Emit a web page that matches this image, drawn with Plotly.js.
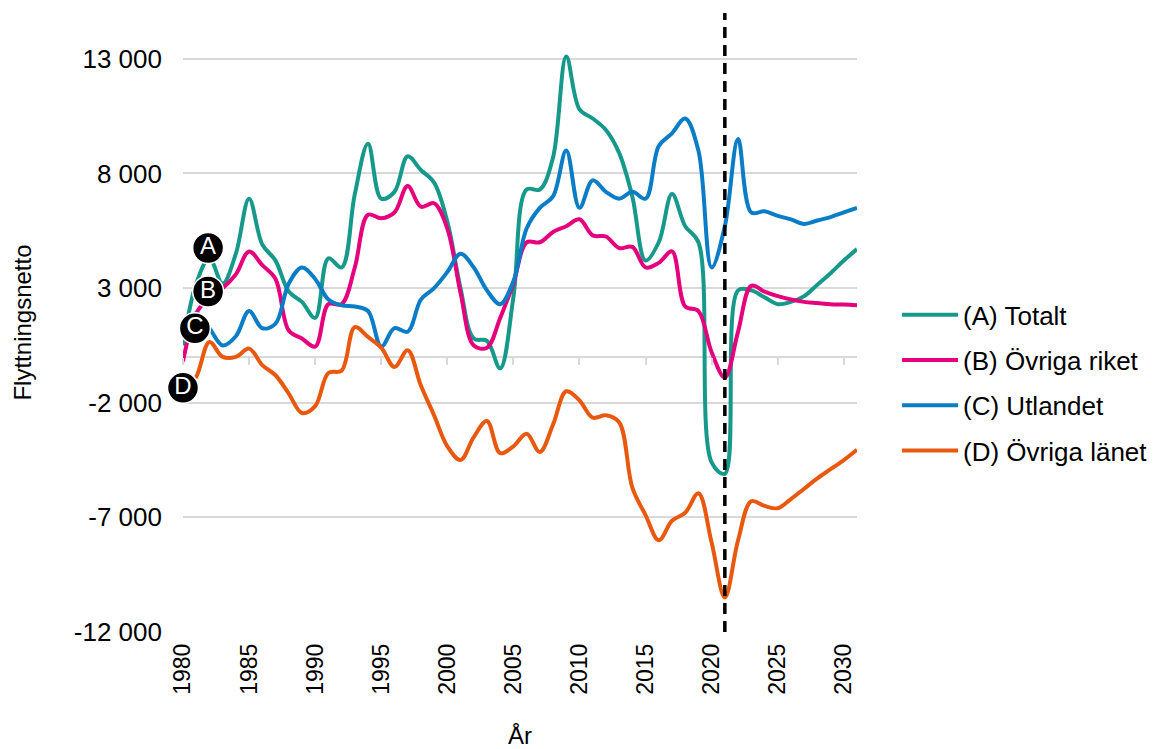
<!DOCTYPE html>
<html>
<head>
<meta charset="utf-8">
<script src="https://cdn.plot.ly/plotly-3.0.1.min.js"></script>
<style>
  html, body { margin: 0; padding: 0; background: #ffffff; }
  #chart { width: 1153px; height: 749px; }
</style>
</head>
<body>
<div id="chart"></div>
<script>
// ---- Data ----
const years = [1980,1981,1982,1983,1984,1985,1986,1987,1988,1989,
               1990,1991,1992,1993,1994,1995,1996,1997,1998,1999,
               2000,2001,2002,2003,2004,2005,2006,2007,2008,2009,
               2010,2011,2012,2013,2014,2015,2016,2017,2018,2019,
               2020,2021,2022,2023,2024,2025,2026,2027,2028,2029,
               2030,2031];

const totalt = [500,3200,4300,3200,4500,6900,4900,4200,2850,2400,
                1700,4300,3900,7100,9300,6900,7200,8750,8150,7600,
                5900,3000,800,700,-500,2600,7300,7300,8700,13100,
                10800,10400,9900,8900,7000,4200,5000,7100,5700,5000,
                -4600,-5100,2900,2900,2600,2300,2400,2650,3150,3650,
                4200,4700];

const ovrigaRiket = [-200,1900,2600,3000,3600,4600,4000,3400,1150,800,
                     450,2300,2300,3900,6200,6050,6300,7450,6550,6700,
                     5600,2800,500,400,1700,3200,5000,5000,5450,5700,
                     6000,5300,5250,4750,4800,3900,4100,4600,2200,2000,
                     200,-900,1100,3100,2850,2650,2500,2400,2350,2300,
                     2280,2250];

const utlandet = [1300,1900,1250,500,900,2000,1250,1450,3200,3900,
                  3400,2500,2250,2200,2000,450,1250,1100,2500,3000,
                  3700,4500,3900,2900,2300,3300,5600,6500,7000,9000,
                  6500,7700,7200,6900,7200,6900,9200,9750,10400,9000,
                  3900,5700,9500,6300,6350,6150,6000,5800,5950,6100,
                  6300,6500];

const ovrigaLanet = [-1600,-870,650,0,0,360,-360,-800,-1600,-2450,
                     -2150,-700,-600,1300,870,400,-440,290,-1250,-2550,
                     -3900,-4500,-3500,-2800,-4200,-3900,-3350,-4150,-2950,-1500,
                     -1900,-2650,-2550,-2850,-5700,-6900,-8000,-7150,-6800,-5950,
                     -8100,-10500,-8000,-6300,-6500,-6600,-6200,-5750,-5300,-4900,
                     -4500,-4050];

const seriesNames = ['(A) Totalt', '(B) Övriga riket', '(C) Utlandet', '(D) Övriga länet'];
const seriesLetters = ['A', 'B', 'C', 'D'];

const yTickVals = [-12000, -7000, -2000, 3000, 8000, 13000];
const yTickText = ['-12 000', '-7 000', '-2 000', '3 000', '8 000', '13 000'];
const xTickVals = [1980,1985,1990,1995,2000,2005,2010,2015,2020,2025,2030];
const xTickText = ['1980','1985','1990','1995','2000','2005','2010','2015','2020','2025','2030'];

const forecastYear = 2021;

// label bubble positions (annotation placement)
const labelX = [1981.9, 1981.9, 1980.9, 1980.0];
const labelY = [4750, 2850, 1250, -1350];

// ---- Styling ----
const colors = ['#16998b', '#e5007d', '#0a7dc6', '#e8580f'];
const FONT = 'Liberation Sans, Arial, sans-serif';
const allSeries = [totalt, ovrigaRiket, utlandet, ovrigaLanet];

const yMin = -12000, yMax = 15000;
const xMin = 1980, xMax = 2031;

const traces = allSeries.map((vals, i) => ({
  type: 'scatter',
  mode: 'lines',
  x: years,
  y: vals,
  name: seriesNames[i],
  legendgroup: 'g' + i,
  line: { color: colors[i], width: 4, shape: 'spline', smoothing: 1 },
  hoverinfo: 'skip'
}));

traces.push({
  type: 'scatter',
  mode: 'markers+text',
  xaxis: 'x2',
  x: labelX,
  y: labelY,
  text: seriesLetters,
  textposition: 'middle center',
  textfont: { family: FONT, size: 24, color: '#ffffff' },
  marker: { size: 31, color: '#000000', line: { color: '#ffffff', width: 1.5 } },
  showlegend: false,
  cliponaxis: false,
  hoverinfo: 'skip'
});

const zeroPos = (0 - yMin) / (yMax - yMin);

const layout = {
  width: 1153,
  height: 749,
  margin: { l: 183, r: 296, t: 13, b: 117, pad: 0 },
  paper_bgcolor: '#ffffff',
  plot_bgcolor: '#ffffff',
  font: { family: FONT, size: 24, color: '#000000' },
  showlegend: true,
  legend: {
    xref: 'container', yref: 'container',
    x: 0.778, xanchor: 'left',
    y: 0.489, yanchor: 'middle',
    font: { family: FONT, size: 26, color: '#000000' },
    itemwidth: 56,
    tracegroupgap: 8.5,
    bgcolor: 'rgba(0,0,0,0)'
  },
  xaxis: {
    range: [xMin, xMax],
    tickmode: 'array',
    tickvals: xTickVals,
    ticktext: xTickText,
    tickangle: -90,
    ticks: '',
    showgrid: false,
    zeroline: false,
    showline: false,
    ticklabelstandoff: 6,
    tickfont: { family: FONT, size: 23, color: '#000000' },
    title: { text: 'År', font: { family: FONT, size: 24, color: '#000000' }, standoff: 41 },
    automargin: false
  },
  xaxis2: {
    overlaying: 'x',
    anchor: 'free',
    position: zeroPos,
    side: 'bottom',
    range: [xMin, xMax],
    tickmode: 'array',
    tickvals: xTickVals,
    ticks: 'outside',
    ticklen: 7,
    tickwidth: 2,
    tickcolor: '#d9d9d9',
    showticklabels: false,
    showgrid: false,
    zeroline: false,
    showline: false
  },
  yaxis: {
    range: [yMin, yMax],
    tickmode: 'array',
    tickvals: yTickVals,
    ticktext: yTickText,
    ticks: '',
    showgrid: true,
    gridcolor: '#d9d9d9',
    gridwidth: 2,
    zeroline: true,
    zerolinecolor: '#d9d9d9',
    zerolinewidth: 2,
    showline: false,
    ticklabelstandoff: 20,
    tickfont: { family: FONT, size: 26, color: '#000000' },
    title: { text: 'Flyttningsnetto', font: { family: FONT, size: 24, color: '#000000' }, standoff: 35 },
    automargin: false
  },
  shapes: [{
    type: 'line',
    xref: 'x', yref: 'paper',
    x0: forecastYear, x1: forecastYear,
    y0: 0, y1: 1,
    line: { color: '#000000', width: 3.5, dash: '11px,7px' },
    layer: 'above'
  }]
};

Plotly.newPlot('chart', traces, layout, { displayModeBar: false, staticPlot: true });
</script>
</body>
</html>
